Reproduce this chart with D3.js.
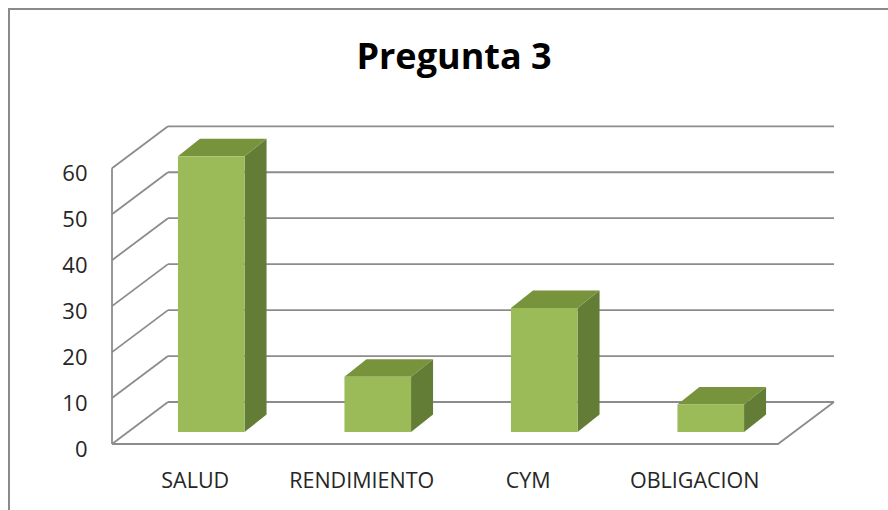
<!DOCTYPE html>
<html>
<head>
<meta charset="utf-8">
<script src="https://cdn.jsdelivr.net/npm/d3@7"></script>
<style>
  html, body { margin: 0; padding: 0; background: #fff; }
  svg { display: block; font-family: "Open Sans", "Noto Sans", sans-serif; }
</style>
</head>
<body>
<svg id="chart"></svg>
<script>
// data
var categories = ["SALUD", "RENDIMIENTO", "CYM", "OBLIGACION"];
var values = [60, 12, 27, 6];
var yTicks = [0, 10, 20, 30, 40, 50, 60];
var title = "Pregunta 3";

var width = 888, height = 510;
var gridColor = "#8c8c8c";

// floor / wall depth offset
var wallDx = 56, wallDy = -42;
// where the bars stand inside the floor, and their own depth
var barSx = 16, barSy = -12;
var barDx = 22, barDy = -17.5;

var svg = d3.select("#chart")
    .attr("width", width)
    .attr("height", height);

var y = d3.scaleLinear().domain([0, 60]).range([444, 168.3]);
var x = d3.scaleBand().domain(categories).range([112, 778])
    .paddingInner(0.6).paddingOuter(0.3);

var x0 = x.range()[0], x1 = x.range()[1];

// outer border (only top & left are visible)
svg.append("rect")
    .attr("x", 9).attr("y", 9)
    .attr("width", width + 20).attr("height", height + 20)
    .attr("fill", "none")
    .attr("stroke", "#8a8a8a")
    .attr("stroke-width", 2);

var grid = svg.append("g")
    .attr("stroke", gridColor)
    .attr("stroke-width", 1.8)
    .attr("fill", "none");

// back wall lines
yTicks.forEach(function(t) {
  grid.append("line")
    .attr("x1", x0 + wallDx).attr("x2", x1 + wallDx)
    .attr("y1", y(t) + wallDy).attr("y2", y(t) + wallDy);
  // side wall diagonals
  grid.append("line")
    .attr("x1", x0).attr("x2", x0 + wallDx)
    .attr("y1", y(t)).attr("y2", y(t) + wallDy);
});
// side wall front edge
grid.append("line")
  .attr("x1", x0).attr("x2", x0)
  .attr("y1", y(0)).attr("y2", y(60));
// floor front + right edge
grid.append("path")
  .attr("d", "M" + x0 + "," + y(0) + "L" + x1 + "," + y(0) +
             "L" + (x1 + wallDx) + "," + (y(0) + wallDy));

// bars
var bars = svg.append("g").selectAll("g")
    .data(categories.map(function(c, i) { return {cat: c, val: values[i]}; }))
    .join("g");

bars.each(function(d) {
  var g = d3.select(this);
  var bx = x(d.cat) + barSx, bw = x.bandwidth();
  var top = y(d.val) + barSy, bot = y(0) + barSy;
  // side
  g.append("path")
    .attr("d", "M" + (bx + bw) + "," + top +
               "L" + (bx + bw + barDx) + "," + (top + barDy) +
               "L" + (bx + bw + barDx) + "," + (bot + barDy) +
               "L" + (bx + bw) + "," + bot + "Z")
    .attr("fill", "#647d36");
  // top
  g.append("path")
    .attr("d", "M" + bx + "," + top +
               "L" + (bx + barDx) + "," + (top + barDy) +
               "L" + (bx + bw + barDx) + "," + (top + barDy) +
               "L" + (bx + bw) + "," + top + "Z")
    .attr("fill", "#77933c");
  // front
  g.append("rect")
    .attr("x", bx).attr("y", top)
    .attr("width", bw).attr("height", bot - top)
    .attr("fill", "#9bbb59");
});

// y tick labels
svg.append("g").selectAll("text")
  .data(yTicks)
  .join("text")
    .attr("x", 87.5)
    .attr("y", function(d) { return y(d) + 4; })
    .attr("text-anchor", "end")
    .attr("dominant-baseline", "central")
    .attr("font-size", "22px")
    .attr("fill", "#262626")
    .text(function(d) { return d; });

// category labels
svg.append("g").selectAll("text")
  .data(categories)
  .join("text")
    .attr("x", function(d) { return x(d) + x.bandwidth() / 2; })
    .attr("y", 487.5)
    .attr("text-anchor", "middle")
    .attr("font-size", "21.5px")
    .attr("fill", "#262626")
    .text(function(d) { return d; });

// title
svg.append("text")
  .attr("x", 454)
  .attr("y", 69)
  .attr("text-anchor", "middle")
  .attr("font-size", "36px")
  .attr("font-weight", "bold")
  .attr("fill", "#000")
  .text(title);
</script>
</body>
</html>
